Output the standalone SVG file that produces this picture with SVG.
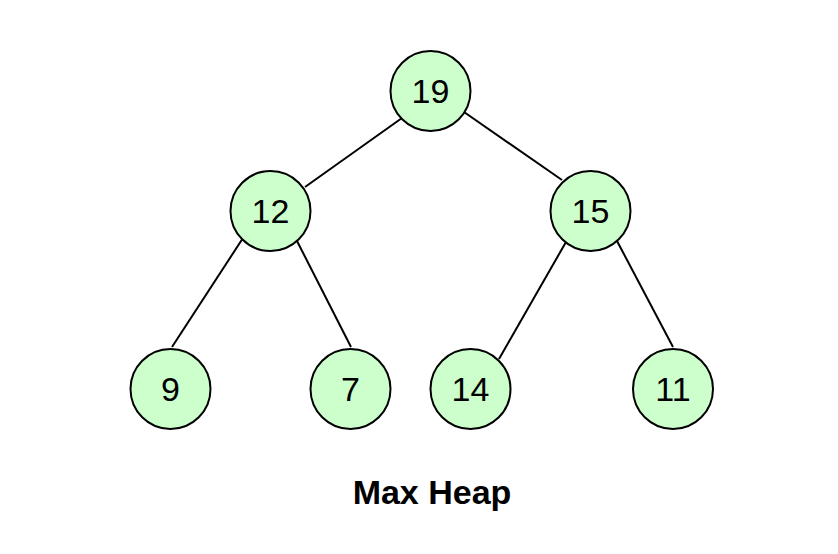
<svg xmlns="http://www.w3.org/2000/svg" width="838" height="554" viewBox="0 0 838 554">
  <style>
    .node circle { fill: #ccffcc; stroke: #000; stroke-width: 2; }
    .node text { font-family: "Liberation Sans", Arial, sans-serif; font-size: 34px; fill: #000; text-anchor: middle; }
    .edges line { stroke: #000; stroke-width: 2; }
    .title { font-family: "Liberation Sans", Arial, sans-serif; font-size: 34px; font-weight: bold; text-anchor: middle; }
  </style>
  <rect width="838" height="554" fill="#fff"/>
  <g class="edges">
    <line x1="402" y1="118" x2="305" y2="187"/>
    <line x1="464" y1="112" x2="562" y2="180"/>
    <line x1="243" y1="238" x2="172" y2="347"/>
    <line x1="297" y1="241" x2="351" y2="347"/>
    <line x1="566" y1="242" x2="499" y2="359"/>
    <line x1="617" y1="241" x2="673" y2="347"/>
  </g>
  <g id="n19" class="node"><circle cx="430.5" cy="91" r="40"/><text x="430.5" y="103">19</text></g>
  <g id="n12" class="node"><circle cx="270.5" cy="211" r="40"/><text x="270.5" y="223">12</text></g>
  <g id="n15" class="node"><circle cx="590.5" cy="211" r="40"/><text x="590.5" y="223">15</text></g>
  <g id="n9" class="node"><circle cx="170.5" cy="389" r="40"/><text x="170.5" y="401">9</text></g>
  <g id="n7" class="node"><circle cx="350.5" cy="389" r="40"/><text x="350.5" y="401">7</text></g>
  <g id="n14" class="node"><circle cx="470.5" cy="389" r="40"/><text x="470.5" y="401">14</text></g>
  <g id="n11" class="node"><circle cx="673" cy="389" r="40"/><text x="673" y="401">11</text></g>
  <text class="title" x="432" y="504">Max Heap</text>
</svg>
